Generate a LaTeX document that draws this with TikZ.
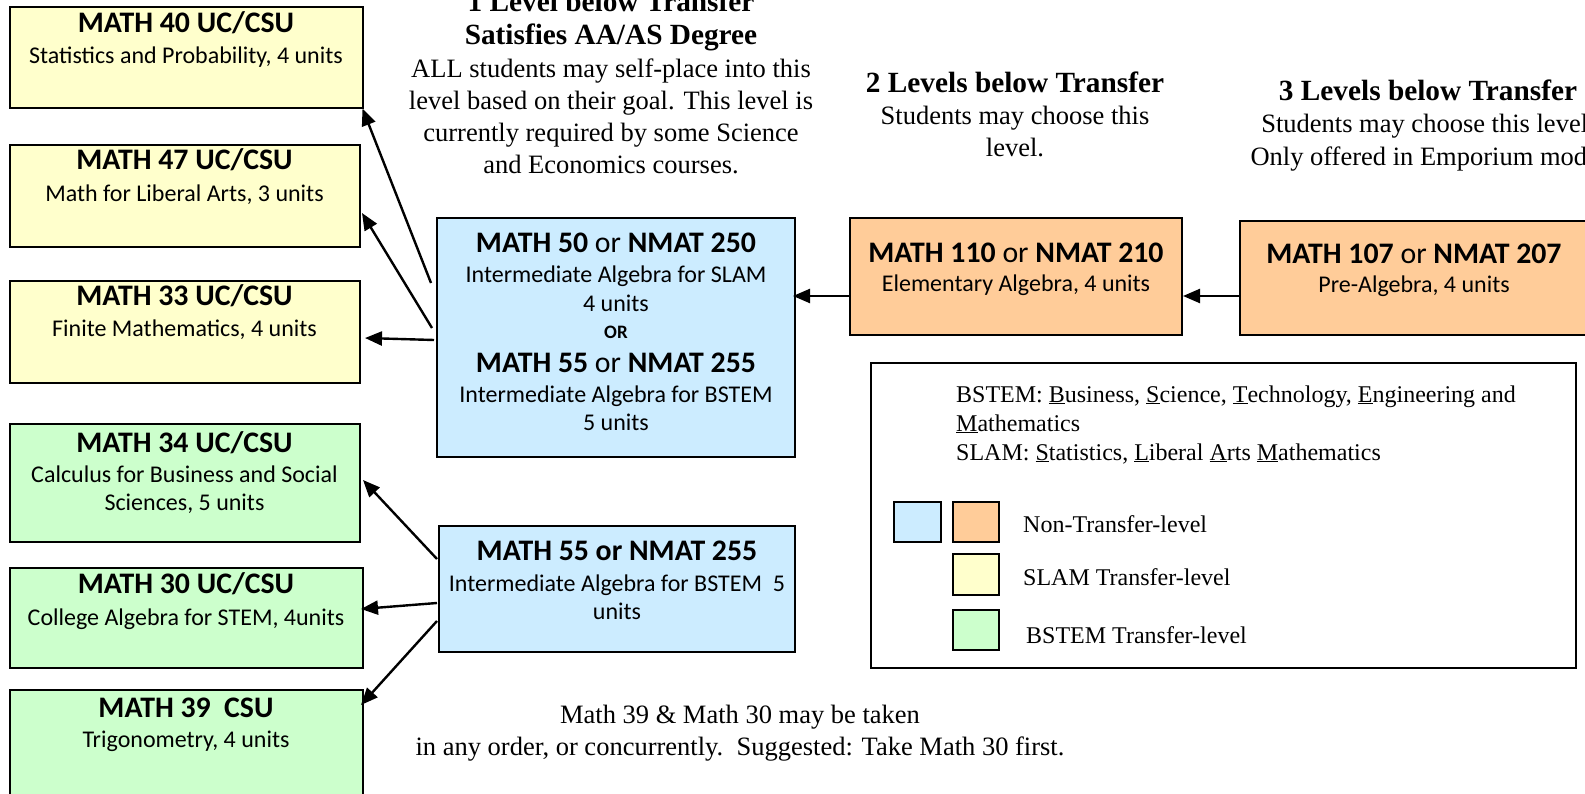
\documentclass[tikz,border=0pt]{standalone}
\usepackage{fontspec}
\setmainfont{Liberation Serif}
\newfontfamily\calib{Carlito}
\usetikzlibrary{arrows.meta,calc}
\definecolor{cyel}{HTML}{FFFFCC}
\definecolor{cgrn}{HTML}{CCFFCC}
\definecolor{cblu}{HTML}{CCECFF}
\definecolor{corg}{HTML}{FFCC99}
\newcommand{\fTitle}{\calib\bfseries\fontsize{29.8}{33}\selectfont}
\newcommand{\fBody}{\calib\fontsize{24}{28}\selectfont}
\newcommand{\fOr}{\calib\bfseries\fontsize{19}{22}\selectfont}
\newcommand{\fHead}{\bfseries\fontsize{29.3}{33}\selectfont}
\newcommand{\fSer}{\fontsize{26.5}{32}\selectfont}
\newcommand{\fLeg}{\fontsize{24}{29}\selectfont}
\tikzset{
  box/.style={draw=black, line width=2pt, anchor=north west, inner sep=0pt, outer sep=0pt},
  lbl/.style={anchor=base, inner sep=0pt},
  lbll/.style={anchor=base west, inner sep=0pt},
  arr/.style={line width=2.4pt, -{Triangle[length=17pt,width=14pt]}},
}
\begin{document}
\begin{tikzpicture}[x=1pt,y=-1pt]
\useasboundingbox (0,0) rectangle (1585,794);
\clip (0,0) rectangle (1585,794);
\fill[white] (0,0) rectangle (1585,794);

% yellow boxes
\node[box, fill=cyel, minimum width=353pt, minimum height=101pt] (m40) at (9.5,7.5) {};
\node[lbl] (t40a) at (186,33) {\fTitle MATH 40 UC/CSU};
\node[lbl] (t40b) at (186,64) {\fBody Statistics and Probability, 4 units};

\node[box, fill=cyel, minimum width=350pt, minimum height=102pt] (m47) at (9.5,145) {};
\node[lbl] (t47a) at (184.5,170) {\fTitle MATH 47 UC/CSU};
\node[lbl] (t47b) at (184.5,202) {\fBody Math for Liberal Arts, 3 units};

\node[box, fill=cyel, minimum width=350pt, minimum height=102pt] (m33) at (9.5,281) {};
\node[lbl] (t33a) at (184.5,306) {\fTitle MATH 33 UC/CSU};
\node[lbl] (t33b) at (184.5,337) {\fBody Finite Mathematics, 4 units};

% green boxes
\node[box, fill=cgrn, minimum width=350pt, minimum height=118pt] (m34) at (9.5,424) {};
\node[lbl] (t34a) at (184.5,452) {\fTitle MATH 34 UC/CSU};
\node[lbl] (t34b) at (184.5,482) {\fBody Calculus for Business and Social};
\node[lbl] (t34c) at (184.5,510) {\fBody Sciences, 5 units};

\node[box, fill=cgrn, minimum width=353.5pt, minimum height=100pt] (m30) at (9.5,568) {};
\node[lbl] (t30a) at (186,593) {\fTitle MATH 30 UC/CSU};
\node[lbl] (t30b) at (186,625) {\fBody College Algebra for STEM, 4units};

\node[box, fill=cgrn, minimum width=353.5pt, minimum height=130pt] (m39) at (9.5,690) {};
\node[lbl] (t39a) at (186,717) {\fTitle MATH 39\ \ CSU};
\node[lbl] (t39b) at (186,747) {\fBody Trigonometry, 4 units};

% blue boxes
\node[box, fill=cblu, minimum width=358pt, minimum height=239pt] (b1) at (437,218) {};
\node[lbl] (tb1a) at (616,253) {\fTitle MATH 50 {\mdseries or} NMAT 250};
\node[lbl] (tb1b) at (616,283) {\fBody Intermediate Algebra for SLAM};
\node[lbl] (tb1c) at (616,312) {\fBody 4 units};
\node[lbl] (tb1d) at (616,338) {\fOr OR};
\node[lbl] (tb1e) at (616,372) {\fTitle MATH 55 {\mdseries or} NMAT 255};
\node[lbl] (tb1f) at (616,402) {\fBody Intermediate Algebra for BSTEM};
\node[lbl] (tb1g) at (616,430) {\fBody 5 units};

\node[box, fill=cblu, minimum width=356pt, minimum height=126pt] (b2) at (439,526) {};
\node[lbl] (tb2a) at (617,560) {\fTitle MATH 55 or NMAT 255};
\node[lbl] (tb2b) at (617,591) {\fBody Intermediate Algebra for BSTEM\ \ 5};
\node[lbl] (tb2c) at (617,619) {\fBody units};

% orange boxes
\node[box, fill=corg, minimum width=332pt, minimum height=117pt] (o1) at (850,218) {};
\node[lbl] (to1a) at (1016,263) {\fTitle MATH 110 {\mdseries or} NMAT 210};
\node[lbl] (to1b) at (1016,292) {\fBody Elementary Algebra, 4 units};

\node[box, fill=corg, minimum width=348pt, minimum height=114pt] (o2) at (1240,221) {};
\node[lbl] (to2a) at (1414,264) {\fTitle MATH 107 {\mdseries or} NMAT 207};
\node[lbl] (to2b) at (1414,293) {\fBody Pre-Algebra, 4 units};

% headings
\node[lbl] (h1a) at (611,12) {\fHead 1 Level below Transfer};
\node[lbl] (h1b) at (611,45) {\fHead Satisfies AA/AS Degree};
\node[lbl] (h1c) at (611,78) {\fSer ALL students may self-place into this};
\node[lbl] (h1d) at (611,110) {\fSer level based on their goal. This level is};
\node[lbl] (h1e) at (611,142) {\fSer currently required by some Science};
\node[lbl] (h1f) at (611,174) {\fSer and Economics courses.};

\node[lbl] (h2a) at (1015,93) {\fHead 2 Levels below Transfer};
\node[lbl] (h2b) at (1015,125) {\fSer Students may choose this};
\node[lbl] (h2c) at (1015,157) {\fSer level.};

\node[lbl] (h3a) at (1428,101) {\fHead 3 Levels below Transfer};
\node[lbl] (h3b) at (1428,133) {\fSer Students may choose this level.};
\node[lbl] (h3c) at (1428,166) {\fSer Only offered in Emporium mode.};

% legend
\node[box, fill=white, minimum width=705pt, minimum height=305pt] (leg) at (871,363) {};
\node[lbll] (lg1) at (956,402) {\fLeg BSTEM: \underline{B}usiness, \underline{S}cience, \underline{T}echnology, \underline{E}ngineering and};
\node[lbll] (lg2) at (956,431) {\fLeg \underline{M}athematics};
\node[lbll] (lg3) at (956,460) {\fLeg SLAM: \underline{S}tatistics, \underline{L}iberal \underline{A}rts \underline{M}athematics};
\node[box, fill=cblu, minimum width=47pt, minimum height=40pt] (sb) at (894,502) {};
\node[box, fill=corg, minimum width=46pt, minimum height=40pt] (so) at (953,502) {};
\node[box, fill=cyel, minimum width=46pt, minimum height=41pt] (sy) at (953,554) {};
\node[box, fill=cgrn, minimum width=46pt, minimum height=40pt] (sg) at (953,610) {};
\node[lbll] (lg4) at (1023,532) {\fLeg Non-Transfer-level};
\node[lbll] (lg5) at (1023,585) {\fLeg SLAM Transfer-level};
\node[lbll] (lg6) at (1026,643) {\fLeg BSTEM Transfer-level};

% note
\node[lbl] (n1) at (740,723) {\fSer Math 39 \& Math 30 may be taken};
\node[lbl] (n2) at (740,755) {\fSer in any order, or concurrently.\ \ Suggested: Take Math 30 first.};

% connectors
\draw[arr] ($(b1.north west)+(-6,65)$) -- (m40.south east);
\draw[arr] ($(b1.north west)+(-5,110)$) -- ($(m47.north east)+(2.5,68)$);
\draw[arr] ($(b1.north west)+(-3,122)$) -- ($(m33.north east)+(5.5,57)$);
\draw[arr] ($(o1.north west)+(0,78)$) -- ($(b1.north east)+(-2,78)$);
\draw[arr] ($(o2.north west)+(0,75)$) -- ($(o1.north east)+(1,78)$);
\draw[arr] ($(b2.north west)+(-2,33)$) -- ($(m34.north east)+(3.5,56)$);
\draw[arr] ($(b2.north west)+(-2,77)$) -- ($(m30.north east)+(-2,41)$);
\draw[arr] ($(b2.north west)+(-2,95)$) -- ($(m39.north east)+(-2,15)$);
\end{tikzpicture}
\end{document}
